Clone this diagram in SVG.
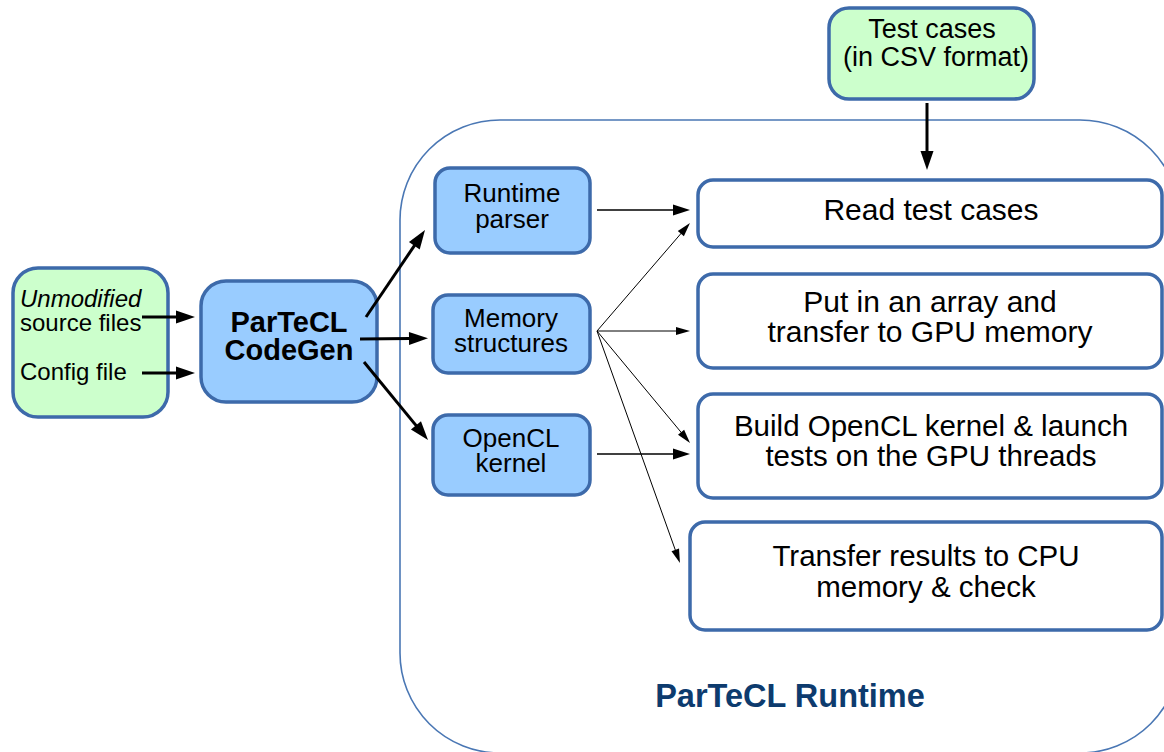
<svg xmlns="http://www.w3.org/2000/svg" width="1164" height="752" viewBox="0 0 1164 752">
<defs>
<style>
.t{font-family:"Liberation Sans",Arial,Helvetica,sans-serif;fill:#000}
.c{text-anchor:middle}
.box{stroke:#3d6aaa;stroke-width:3.5}
.green{fill:#ccffcc}
.blue{fill:#99ccff}
.white{fill:#ffffff}
.thick{stroke:#000;stroke-width:3;fill:none}
.mid{stroke:#000;stroke-width:1.6;fill:none}
.thin{stroke:#000;stroke-width:1;fill:none}
</style>
<marker id="ahThick" markerUnits="userSpaceOnUse" markerWidth="20" markerHeight="14" refX="0" refY="0" viewBox="-1 -7 20 14" orient="auto" overflow="visible">
<path d="M-1,-6.5 L18,0 L-1,6.5 z" fill="#000"/>
</marker>
<marker id="ahMid" markerUnits="userSpaceOnUse" markerWidth="18" markerHeight="12" refX="0" refY="0" viewBox="-1 -6 18 12" orient="auto" overflow="visible">
<path d="M-1,-5.5 L16,0 L-1,5.5 z" fill="#000"/>
</marker>
<marker id="ahThin" markerUnits="userSpaceOnUse" markerWidth="14" markerHeight="10" refX="0" refY="0" viewBox="-1 -5 14 10" orient="auto" overflow="visible">
<path d="M-1,-4 L13,0 L-1,4 z" fill="#000"/>
</marker>
</defs>
<rect width="1164" height="752" fill="#ffffff"/>

<g id="runtime-container">
<rect x="400" y="120" width="780" height="633" rx="100" ry="100" fill="none" stroke="#4a77b4" stroke-width="1.6"/>
<text class="t c" x="790" y="707" font-size="32.5" font-weight="bold" style="fill:#0d3b6e">ParTeCL Runtime</text>
</g>

<g id="inputs">
<rect class="box green" x="13" y="268" width="155" height="149" rx="25"/>
<text class="t" x="20" y="307" font-size="24" font-style="italic">Unmodified</text>
<text class="t" x="20" y="331" font-size="24">source files</text>
<text class="t" x="20" y="380" font-size="24">Config file</text>
</g>

<g id="codegen">
<rect class="box blue" x="201" y="281" width="176" height="121" rx="25"/>
<text class="t c" x="289" y="332" font-size="29" font-weight="bold">ParTeCL</text>
<text class="t c" x="289" y="360" font-size="29" font-weight="bold">CodeGen</text>
</g>

<g id="runtime-parser">
<rect class="box blue" x="435" y="168" width="155" height="85" rx="15"/>
<text class="t c" x="512" y="202" font-size="26">Runtime</text>
<text class="t c" x="512" y="228" font-size="26">parser</text>
</g>

<g id="memory-structures">
<rect class="box blue" x="433" y="295" width="157" height="78" rx="15"/>
<text class="t c" x="511" y="327" font-size="26">Memory</text>
<text class="t c" x="511" y="352" font-size="26">structures</text>
</g>

<g id="opencl-kernel">
<rect class="box blue" x="433" y="415" width="157" height="80" rx="15"/>
<text class="t c" x="511" y="447" font-size="26">OpenCL</text>
<text class="t c" x="511" y="472" font-size="26">kernel</text>
</g>

<g id="test-cases">
<rect class="box green" x="829" y="8" width="205" height="91" rx="20"/>
<text class="t c" x="932" y="38" font-size="27">Test cases</text>
<text class="t c" x="936" y="66" font-size="27">(in CSV format)</text>
</g>

<g id="read-test-cases">
<rect class="box white" x="698" y="180" width="464" height="67" rx="15"/>
<text class="t c" x="931" y="220" font-size="30">Read test cases</text>
</g>

<g id="put-array">
<rect class="box white" x="698" y="274" width="464" height="94" rx="15"/>
<text class="t c" x="930" y="312" font-size="30">Put in an array and</text>
<text class="t c" x="930" y="342" font-size="30">transfer to GPU memory</text>
</g>

<g id="build-kernel">
<rect class="box white" x="698" y="394" width="464" height="104" rx="15"/>
<text class="t c" x="931" y="436" font-size="29.5">Build OpenCL kernel &amp; launch</text>
<text class="t c" x="931" y="466" font-size="29.5">tests on the GPU threads</text>
</g>

<g id="transfer-results">
<rect class="box white" x="690" y="522" width="472" height="108" rx="15"/>
<text class="t c" x="926" y="566" font-size="29.5">Transfer results to CPU</text>
<text class="t c" x="926" y="597" font-size="29.5">memory &amp; check</text>
</g>

<g id="connectors">
<line class="thick" x1="142" y1="317" x2="177" y2="317" marker-end="url(#ahThick)"/>
<line class="thick" x1="142" y1="373" x2="177" y2="373" marker-end="url(#ahThick)"/>
<line class="thick" x1="927" y1="103" x2="927" y2="152" marker-end="url(#ahThick)"/>
<line class="thick" x1="366" y1="317" x2="414.9" y2="244.9" marker-end="url(#ahThick)"/>
<line class="thick" x1="360" y1="339" x2="410" y2="338.5" marker-end="url(#ahThick)"/>
<line class="thick" x1="364" y1="362" x2="416.6" y2="426.1" marker-end="url(#ahThick)"/>
<line class="mid" x1="597" y1="210" x2="674" y2="210" marker-end="url(#ahMid)"/>
<line class="mid" x1="597" y1="454" x2="674" y2="454" marker-end="url(#ahMid)"/>
<line class="thin" x1="597" y1="331" x2="681.5" y2="232.9" marker-end="url(#ahThin)"/>
<line class="thin" x1="597" y1="331" x2="677" y2="331" marker-end="url(#ahThin)"/>
<line class="thin" x1="597" y1="331" x2="681.7" y2="433" marker-end="url(#ahThin)"/>
<line class="thin" x1="597" y1="331" x2="675.6" y2="550.8" marker-end="url(#ahThin)"/>
</g>
</svg>
